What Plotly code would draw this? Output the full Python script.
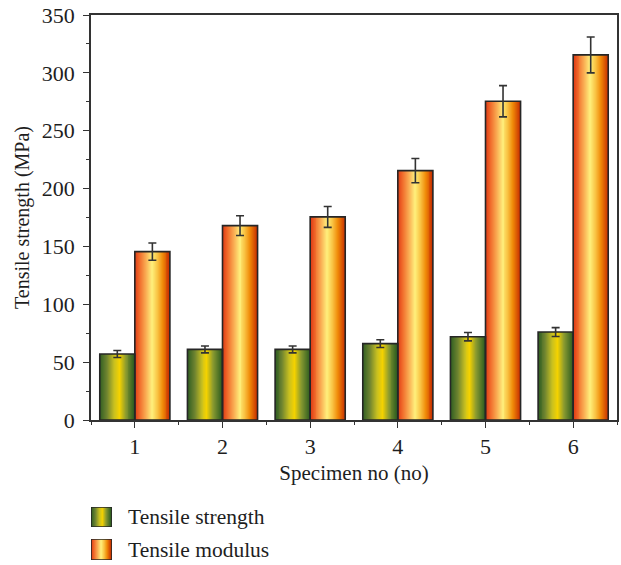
import plotly.graph_objects as go

# ---- data ----
specimens = [1, 2, 3, 4, 5, 6]
strength = [57, 61, 61, 66, 72, 76]
strength_err = [3, 3, 3, 3.3, 3.6, 3.8]
modulus = [145.5, 168, 175.5, 215.5, 275.5, 315.5]
modulus_err = [7.5, 8.5, 9, 10.5, 13.5, 15.5]
series_names = ["Tensile strength", "Tensile modulus"]

# ---- style ----
FONT = "Liberation Serif"
TXT = "#1e1e1e"
EDGE = "#262626"
green_stops = [(0.0, "#2a5a20"), (0.22, "#6f8430"), (0.42, "#c8c020"),
               (0.57, "#f4d200"), (0.75, "#8a9a30"), (1.0, "#2c5c20")]
orange_stops = [(0.0, "#dc3412"), (0.15, "#f06a2a"), (0.32, "#f9a850"),
                (0.5, "#fff07c"), (0.65, "#f9c444"), (0.8, "#f08a08"),
                (1.0, "#c83000")]


def hex2rgb(h):
    h = h.lstrip("#")
    return tuple(int(h[i:i + 2], 16) for i in (0, 2, 4))


def interp(stops, t):
    for (t0, c0), (t1, c1) in zip(stops[:-1], stops[1:]):
        if t0 <= t <= t1:
            f = 0 if t1 == t0 else (t - t0) / (t1 - t0)
            a, b = hex2rgb(c0), hex2rgb(c1)
            return "rgb(%d,%d,%d)" % tuple(round(a[i] + (b[i] - a[i]) * f) for i in range(3))
    return stops[-1][1]


BAR_W = 0.4
N = 36
fig = go.Figure()


def gradient_bars(x, y, start, stops, xaxis="x", yaxis="y", width=BAR_W, n=N):
    w = width / n
    for k in range(n):
        t = (k + 0.5) / n
        fig.add_trace(go.Bar(
            x=x, y=y, width=w * 1.08, offset=start + k * w,
            marker=dict(color=interp(stops, t), line=dict(width=0)),
            showlegend=False, hoverinfo="skip", xaxis=xaxis, yaxis=yaxis))


gradient_bars(specimens, strength, -BAR_W, green_stops)
gradient_bars(specimens, modulus, 0.0, orange_stops)

for vals, errs, start, name in [(strength, strength_err, -BAR_W, series_names[0]),
                                (modulus, modulus_err, 0.0, series_names[1])]:
    fig.add_trace(go.Bar(
        x=specimens, y=vals, width=BAR_W, offset=start, name=name,
        marker=dict(color="rgba(0,0,0,0)", line=dict(color=EDGE, width=1.6)),
        error_y=dict(type="data", array=errs, visible=True, color="#333333",
                     thickness=1.6, width=4),
        showlegend=False))

# ---- custom legend swatches (gradient) ----
gradient_bars([0], [1], -0.5, green_stops, "x2", "y2", width=1.0, n=20)
fig.add_trace(go.Bar(x=[0], y=[1], width=1.0, offset=-0.5, xaxis="x2", yaxis="y2",
                     marker=dict(color="rgba(0,0,0,0)", line=dict(color=EDGE, width=1.6)),
                     showlegend=False, hoverinfo="skip"))
gradient_bars([0], [1], -0.5, orange_stops, "x3", "y3", width=1.0, n=20)
fig.add_trace(go.Bar(x=[0], y=[1], width=1.0, offset=-0.5, xaxis="x3", yaxis="y3",
                     marker=dict(color="rgba(0,0,0,0)", line=dict(color=EDGE, width=1.6)),
                     showlegend=False, hoverinfo="skip"))

W, H = 621, 565
ML, MR, MT, MB = 91, 4, 15, 5
PW, PH = W - ML - MR, H - MT - MB
plot_bottom_px = 420


def py(px):
    return (H - MB - px) / PH


def pxx(px):
    return (px - ML) / PW


hidden = dict(visible=False, fixedrange=True, automargin=False)

axis_common = dict(showline=True, linecolor="#333333", linewidth=1.6, mirror=True,
                   ticks="outside", tickcolor="#333333", tickwidth=1.4, ticklen=6,
                   showgrid=False, zeroline=False, automargin=False,
                   tickfont=dict(family=FONT, size=22, color=TXT))

fig.update_layout(
    template="none",
    width=W, height=H,
    margin=dict(l=ML, r=MR, t=MT, b=MB),
    paper_bgcolor="white", plot_bgcolor="white",
    barmode="overlay", showlegend=False,
    font=dict(family=FONT, color=TXT),
    xaxis=dict(range=[0.5, 6.5], tickvals=specimens, domain=[0, 1],
               minor=dict(tick0=0.5, dtick=1, ticks="outside", ticklen=3,
                          tickcolor="#333333", tickwidth=1.2),
               title=dict(text="Specimen no (no)", font=dict(family=FONT, size=21, color=TXT),
                          standoff=7),
               **axis_common),
    yaxis=dict(range=[0, 350], dtick=50, domain=[py(plot_bottom_px), 1],
               ticklabelstandoff=4,
               minor=dict(dtick=25, ticks="outside", ticklen=3,
                          tickcolor="#333333", tickwidth=1.2),
               title=dict(text="Tensile strength (MPa)", font=dict(family=FONT, size=20, color=TXT),
                          standoff=7),
               **axis_common),
    xaxis2=dict(domain=[pxx(91), pxx(112)], range=[-0.5, 0.5], anchor="y2", **hidden),
    yaxis2=dict(domain=[py(527), py(507)], range=[0, 1], anchor="x2", **hidden),
    xaxis3=dict(domain=[pxx(91), pxx(112)], range=[-0.5, 0.5], anchor="y3", **hidden),
    yaxis3=dict(domain=[py(560), py(539)], range=[0, 1], anchor="x3", **hidden),
    annotations=[
        dict(text=series_names[0], x=pxx(126), y=py(517), xref="paper", yref="paper",
             xanchor="left", yanchor="middle", showarrow=False,
             font=dict(family=FONT, size=21.5, color=TXT)),
        dict(text=series_names[1], x=pxx(126), y=py(550), xref="paper", yref="paper",
             xanchor="left", yanchor="middle", showarrow=False,
             font=dict(family=FONT, size=21.5, color=TXT)),
    ],
)

fig.write_html("out.html")
